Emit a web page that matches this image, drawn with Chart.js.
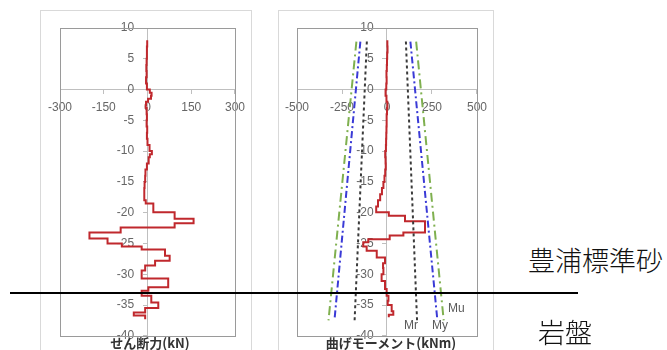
<!DOCTYPE html>
<html><head><meta charset="utf-8">
<script src="https://cdn.jsdelivr.net/npm/chart.js@4/dist/chart.umd.min.js"></script>
<style>
html,body{margin:0;padding:0;background:#fff;}
body{width:667px;height:350px;position:relative;overflow:hidden;font-family:"Liberation Sans",Arial,sans-serif;}
.box{position:absolute;border:1px solid #d9d9d9;box-sizing:border-box;}
#b1{left:40px;top:10px;width:212px;height:360px;}
#b2{left:278px;top:10px;width:216px;height:360px;}
canvas{position:absolute;}
#c1{left:40px;top:10px;}
#c2{left:278px;top:10px;}
.ttl{position:absolute;font-family:"Noto Sans CJK JP",sans-serif;font-weight:bold;font-size:13px;color:#333;white-space:nowrap;transform:translateX(-50%);line-height:14px;}
.lbl{position:absolute;font-family:"Liberation Sans",Arial,sans-serif;font-size:12px;color:#595959;white-space:nowrap;line-height:12px;}
.jp{position:absolute;font-family:"Noto Sans CJK JP",sans-serif;font-weight:300;color:#111;white-space:nowrap;font-size:27px;line-height:27px;}
#hline{position:absolute;left:10px;top:292px;width:568px;height:2px;background:#000;}
</style>
</head><body>
<div class="box" id="b1"></div>
<div class="box" id="b2"></div>
<canvas id="c1" width="212" height="340"></canvas>
<canvas id="c2" width="216" height="340"></canvas>
<div class="ttl" style="left:150px;top:336px;">せん断力(kN)</div>
<div class="ttl" style="left:391px;top:336px;">曲げモーメント(kNm)</div>
<div class="lbl" style="left:448px;top:302px;">Mu</div>
<div class="lbl" style="left:404px;top:319px;">Mr</div>
<div class="lbl" style="left:432px;top:319px;">My</div>
<div id="hline"></div>
<div class="jp" style="left:528px;top:246px;">豊浦標準砂</div>
<div class="jp" style="left:538px;top:318px;">岩盤</div>
<script>
// Depth levels (m) and values; each value holds from its depth to the next depth
const shearDepth = [8,7,6,5,4,3,2,1,0,-0.5,-1,-1.5,-2,-2.5,-3,-4,-5,-6,-7,-8,-9,-10,-10.5,-11,-12,-13,-14,-15,-16,-17,-18,-18.5,-19.95,-21,-21.7,-22.4,-23.2,-24.2,-25,-25.5,-26,-27,-27.8,-28.6,-29.4,-30.7,-32.1,-32.7,-33.5,-34.6,-35.5,-36.2,-36.7,-37.3];
const shearValue = [-1,-2,-2,-3,-4,-3,-5,-2,8,14,12,2,-5,-6,-3,-2,-3,-1,-2,0,7,15,8,4,-2,-7,-8,-10,-11,-11,-6,20,93,158,93,-92,-199,-137,-88,-20,60,76,26,-8,-20,71,3,-20,13,37,-8,-47,-8,-8];

const momentDepth = [8,7,6,5,4,3,2,1,0,-1,-2,-3,-4,-5,-6,-7,-8,-9,-10,-11,-12,-13,-14,-15,-16,-17,-18,-19,-19.95,-20.5,-21.4,-23.2,-23.7,-24.3,-24.8,-25.5,-26.2,-27.3,-28.2,-29,-30,-31.1,-32.4,-33.5,-34.3,-35,-36,-36.6,-37];
const momentValue = [2,3,1,0,-1,-3,-2,-4,-8,-3,2,0,-2,-2,-3,-4,-5,-6,-10,-8,-7,-10,-14,-20,-28,-38,-50,-60,10,100,211,91,15,-104,-132,-113,-57,-11,-22,-20,-30,-11,-2,8,4,26,35,10,10];

// Capacity lines (top and bottom depth)
const capDepth = [7.8, -37.5];
const mrLeft = [-112, -180], mrRight = [105, 167];
const myLeft = [-148, -292], myRight = [130, 280];
const muLeft = [-170, -325], muRight = [162, 315];

const shearTicks = {min:-300, max:300, step:150};
const momentTicks = {min:-500, max:500, step:250};
const depthTicks = {min:-40, max:10, step:5};

function pts(xs, ys){ return xs.map((x,i)=>({x:x, y:ys[i]})); }

const frame = {
  id:'frame',
  beforeDatasetsDraw(chart){
    const a = chart.chartArea, c = chart.ctx;
    c.save(); c.strokeStyle='#9a9a9a'; c.lineWidth=1;
    c.strokeRect(Math.round(a.left)+0.5, Math.round(a.top)+0.5, Math.round(a.right-a.left), Math.round(a.bottom-a.top));
    c.restore();
  }
};

function scales(xt){
  const tickFont = {family:'"Liberation Sans", Arial, sans-serif', size:12};
  return {
    x:{type:'linear', min:xt.min, max:xt.max, position:{y:0},
       ticks:{stepSize:xt.step, padding:7, color:'#666', font:tickFont, maxRotation:0, autoSkip:false},
       grid:{drawOnChartArea:false, drawTicks:true, tickLength:4, color:'#bfbfbf'},
       border:{color:'#bfbfbf', width:1},
       afterFit(s){ s.height = 0; }},
    y:{type:'linear', min:depthTicks.min, max:depthTicks.max, position:{x:0},
       ticks:{stepSize:depthTicks.step, padding:7, color:'#666', font:tickFont, autoSkip:false,
              callback:(v)=> v + '    '},
       grid:{drawOnChartArea:false, drawTicks:true, tickLength:4, color:'#bfbfbf'},
       border:{color:'#bfbfbf', width:1},
       afterFit(s){ s.width = 0; }}
  };
}

function baseOptions(xt, pad){
  return {
    responsive:false, animation:false, devicePixelRatio:1,
    layout:{padding:pad, autoPadding:false},
    plugins:{legend:{display:false}, tooltip:{enabled:false}, title:{display:false}},
    elements:{point:{radius:0}},
    scales:scales(xt)
  };
}

new Chart(document.getElementById('c1'), {
  type:'scatter',
  data:{datasets:[{
    data:pts(shearValue, shearDepth), showLine:true, stepped:'after',
    borderColor:'#c0282d', borderWidth:2, pointRadius:0, fill:false
  }]},
  options:baseOptions(shearTicks, {left:20, right:14, top:18, bottom:4}),
  plugins:[frame]
});

function capLine(xs, color, dash){
  return {data:pts(xs, capDepth), showLine:true, borderColor:color, borderWidth:2, borderDash:dash, pointRadius:0, fill:false};
}

new Chart(document.getElementById('c2'), {
  type:'scatter',
  data:{datasets:[
    capLine(muLeft, '#7fb04f', [9,4,2,4]),
    capLine(muRight, '#7fb04f', [9,4,2,4]),
    capLine(myLeft, '#3a3ad6', [7,3,2,3]),
    capLine(myRight, '#3a3ad6', [7,3,2,3]),
    capLine(mrLeft, '#3a3a3a', [3,3]),
    capLine(mrRight, '#3a3a3a', [3,3]),
    {data:pts(momentValue, momentDepth), showLine:true, stepped:'after',
     borderColor:'#c0282d', borderWidth:2, pointRadius:0, fill:false}
  ]},
  options:baseOptions(momentTicks, {left:19, right:17, top:18, bottom:4}),
  plugins:[frame]
});
</script>
</body></html>
